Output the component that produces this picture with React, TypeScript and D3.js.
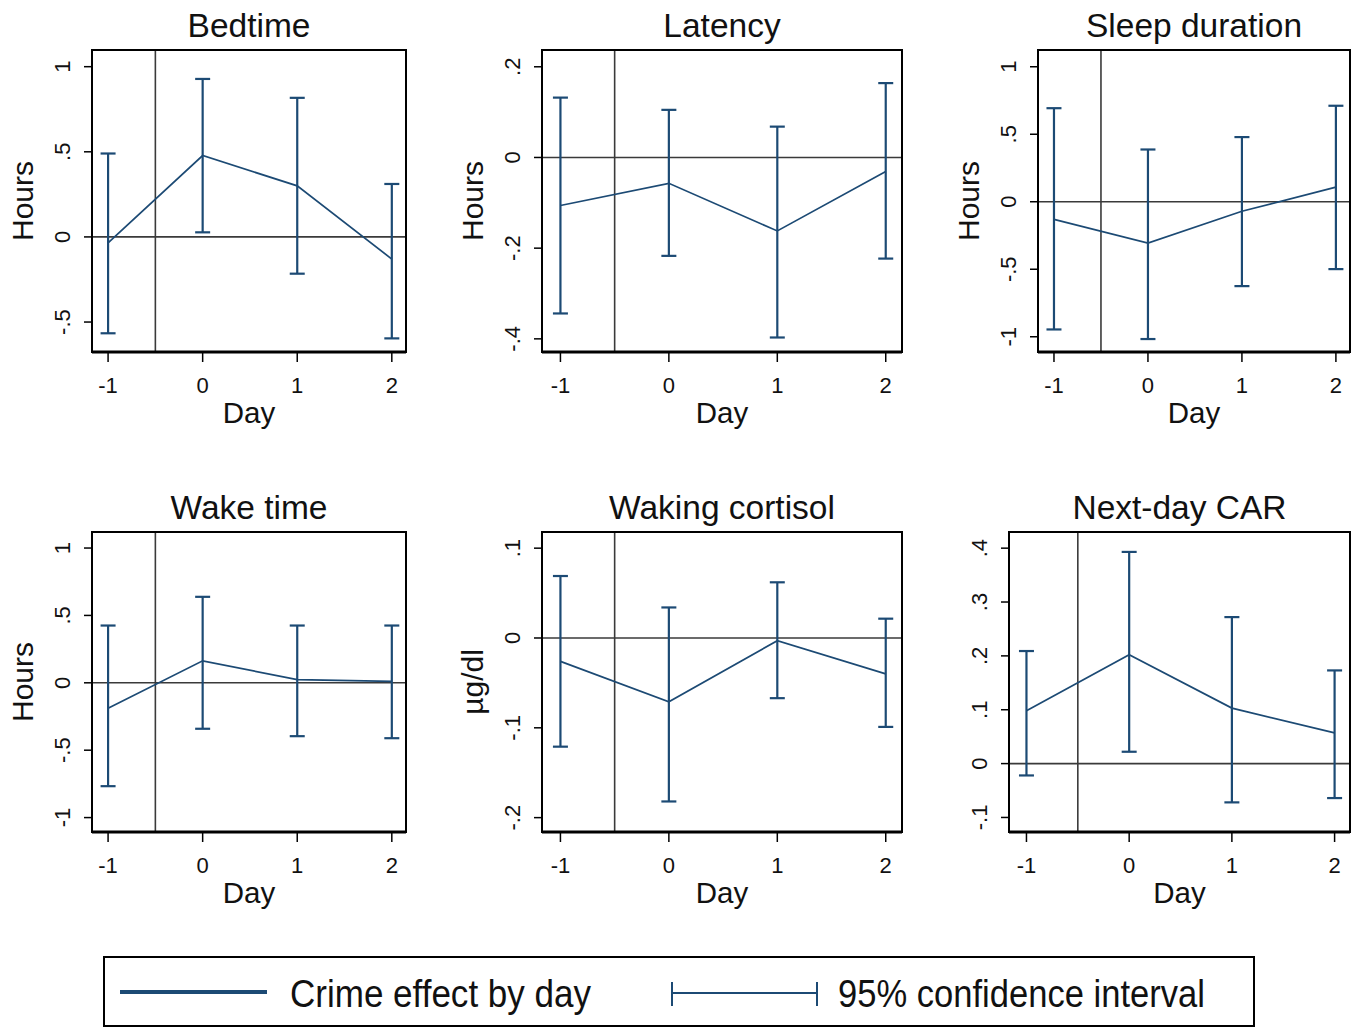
import * as d3 from "d3";

// Day offsets relative to the crime
const days = [-1, 0, 1, 2];

// Bedtime (hours)
const bedtimeEst = [-0.035, 0.478, 0.3, -0.13];
const bedtimeLo = [-0.566, 0.027, -0.216, -0.596];
const bedtimeHi = [0.49, 0.928, 0.817, 0.311];

// Latency (hours)
const latencyEst = [-0.106, -0.057, -0.162, -0.031];
const latencyLo = [-0.344, -0.217, -0.397, -0.223];
const latencyHi = [0.132, 0.105, 0.068, 0.164];

// Sleep duration (hours)
const durationEst = [-0.131, -0.306, -0.07, 0.108];
const durationLo = [-0.946, -1.017, -0.625, -0.499];
const durationHi = [0.693, 0.387, 0.479, 0.711];

// Wake time (hours)
const wakeEst = [-0.188, 0.163, 0.024, 0.01];
const wakeLo = [-0.767, -0.341, -0.396, -0.411];
const wakeHi = [0.425, 0.638, 0.425, 0.425];

// Waking cortisol (µg/dl)
const cortisolEst = [-0.026, -0.071, -0.003, -0.04];
const cortisolLo = [-0.121, -0.182, -0.067, -0.099];
const cortisolHi = [0.069, 0.034, 0.062, 0.0215];

// Next-day CAR
const carEst = [0.098, 0.202, 0.103, 0.057];
const carLo = [-0.022, 0.022, -0.072, -0.064];
const carHi = [0.209, 0.393, 0.272, 0.173];

// y tick values per panel
const ticksHours1 = [-0.5, 0, 0.5, 1];
const ticksLatency = [-0.4, -0.2, 0, 0.2];
const ticksHours2 = [-1, -0.5, 0, 0.5, 1];
const ticksCortisol = [-0.2, -0.1, 0, 0.1];
const ticksCar = [-0.1, 0, 0.1, 0.2, 0.3, 0.4];

const titles = ["Bedtime", "Latency", "Sleep duration", "Wake time", "Waking cortisol", "Next-day CAR"];
const yLabels = ["Hours", "Hours", "Hours", "Hours", "µg/dl", ""];

const legendLabels = ["Crime effect by day", "95% confidence interval"];

const NAVY = "#1c4a74";
const FONT = "'Liberation Sans', Arial, sans-serif";
const NARROW = "'Liberation Sans Narrow', 'Arial Narrow', 'Liberation Sans', sans-serif";

const panels = [
  { est: bedtimeEst, lo: bedtimeLo, hi: bedtimeHi, ticks: ticksHours1, domain: [-0.676, 1.098] },
  { est: latencyEst, lo: latencyLo, hi: latencyHi, ticks: ticksLatency, domain: [-0.429, 0.237] },
  { est: durationEst, lo: durationLo, hi: durationHi, ticks: ticksHours2, domain: [-1.113, 1.124] },
  { est: wakeEst, lo: wakeLo, hi: wakeHi, ticks: ticksHours2, domain: [-1.107, 1.119] },
  { est: cortisolEst, lo: cortisolLo, hi: cortisolHi, ticks: ticksCortisol, domain: [-0.216, 0.118] },
  { est: carEst, lo: carLo, hi: carHi, ticks: ticksCar, domain: [-0.127, 0.43] },
].map((p, i) => ({ ...p, title: titles[i], yLabel: yLabels[i] }));

// panel frames (pixel boxes)
const boxes = [
  { x0: 92, x1: 406, y0: 50, y1: 352 },
  { x0: 542, x1: 902, y0: 50, y1: 352 },
  { x0: 1038, x1: 1350, y0: 50, y1: 352 },
  { x0: 92, x1: 406, y0: 532, y1: 832 },
  { x0: 542, x1: 902, y0: 532, y1: 832 },
  { x0: 1009, x1: 1350, y0: 532, y1: 832 },
];

// Stata style tick label: ".5", "-.5", "0"
const fmt = (v: number) => {
  const s = String(Math.round(v * 100) / 100);
  return s.replace(/^(-?)0\./, "$1.");
};

function Panel({ p, b }: { p: (typeof panels)[number]; b: (typeof boxes)[number] }) {
  const x = d3.scaleLinear().domain([-1.17, 2.15]).range([b.x0, b.x1]);
  const y = d3.scaleLinear().domain(p.domain).range([b.y1, b.y0]);
  const line = d3
    .line<number>()
    .x((_, i) => x(days[i]))
    .y((d) => y(d));
  const cx = (b.x0 + b.x1) / 2;
  const cy = (b.y0 + b.y1) / 2;
  const cap = 7.5;

  return (
    <g>
      <text x={cx} y={b.y0 - 13.5} textAnchor="middle" fontSize={33.5} fontFamily={FONT} fill="#111">
        {p.title}
      </text>
      {/* reference lines */}
      <line x1={x(-0.5)} x2={x(-0.5)} y1={b.y0} y2={b.y1} stroke="#3a3a3a" strokeWidth={1.6} />
      <line x1={b.x0} x2={b.x1} y1={y(0)} y2={y(0)} stroke="#3a3a3a" strokeWidth={1.6} />

      {/* confidence intervals */}
      {days.map((d, i) => (
        <g key={d} stroke={NAVY} strokeWidth={2.2} fill="none">
          <line x1={x(d)} x2={x(d)} y1={y(p.lo[i])} y2={y(p.hi[i])} />
          <line x1={x(d) - cap} x2={x(d) + cap} y1={y(p.lo[i])} y2={y(p.lo[i])} />
          <line x1={x(d) - cap} x2={x(d) + cap} y1={y(p.hi[i])} y2={y(p.hi[i])} />
        </g>
      ))}
      <path d={line(p.est) ?? ""} fill="none" stroke={NAVY} strokeWidth={1.7} />

      <rect x={b.x0} y={b.y0} width={b.x1 - b.x0} height={b.y1 - b.y0} fill="none" stroke="#000" strokeWidth={2} />
      <line x1={b.x0} x2={b.x1} y1={b.y1} y2={b.y1} stroke="#000" strokeWidth={3} />

      {/* y axis */}
      {p.ticks.map((t) => (
        <g key={t}>
          <line x1={b.x0 - 8} x2={b.x0} y1={y(t)} y2={y(t)} stroke="#000" strokeWidth={1.5} />
          <text
            transform={`translate(${b.x0 - 22},${y(t)}) rotate(-90)`}
            textAnchor="middle"
            fontSize={22}
            fontFamily={FONT}
            fill="#111"
          >
            {fmt(t)}
          </text>
        </g>
      ))}
      {p.yLabel && (
        <text
          transform={`translate(${b.x0 - 59},${cy}) rotate(-90)`}
          textAnchor="middle"
          fontSize={30}
          fontFamily={FONT}
          fill="#111"
        >
          {p.yLabel}
        </text>
      )}

      {/* x axis */}
      {days.map((d) => (
        <g key={d}>
          <line x1={x(d)} x2={x(d)} y1={b.y1} y2={b.y1 + 10} stroke="#000" strokeWidth={1.5} />
          <text x={x(d)} y={b.y1 + 41} textAnchor="middle" fontSize={22} fontFamily={FONT} fill="#111">
            {fmt(d)}
          </text>
        </g>
      ))}
      <text x={cx} y={b.y1 + 71} textAnchor="middle" fontSize={29.5} fontFamily={FONT} fill="#111">
        Day
      </text>
    </g>
  );
}

export default function App() {
  return (
    <svg
      width={1360}
      height={1028}
      style={{ position: "absolute", left: 0, top: 0, display: "block", background: "#fff" }}
    >
      <rect width={1360} height={1028} fill="#fff" />
      {panels.map((p, i) => (
        <Panel key={p.title} p={p} b={boxes[i]} />
      ))}

      {/* legend */}
      <rect x={104} y={957} width={1150} height={69} fill="#fff" stroke="#000" strokeWidth={2} />
      <line x1={120} x2={267} y1={992} y2={992} stroke={NAVY} strokeWidth={4} />
      <text x={290} y={1006.5} fontSize={38} fontFamily={NARROW} fill="#111" textLength={301} lengthAdjust="spacingAndGlyphs">
        {legendLabels[0]}
      </text>
      <g stroke={NAVY} strokeWidth={2}>
        <line x1={672} x2={817} y1={993} y2={993} />
        <line x1={672} x2={672} y1={982} y2={1006} />
        <line x1={817} x2={817} y1={982} y2={1006} />
      </g>
      <text x={838} y={1006.5} fontSize={38} fontFamily={NARROW} fill="#111" textLength={367} lengthAdjust="spacingAndGlyphs">
        {legendLabels[1]}
      </text>
    </svg>
  );
}
